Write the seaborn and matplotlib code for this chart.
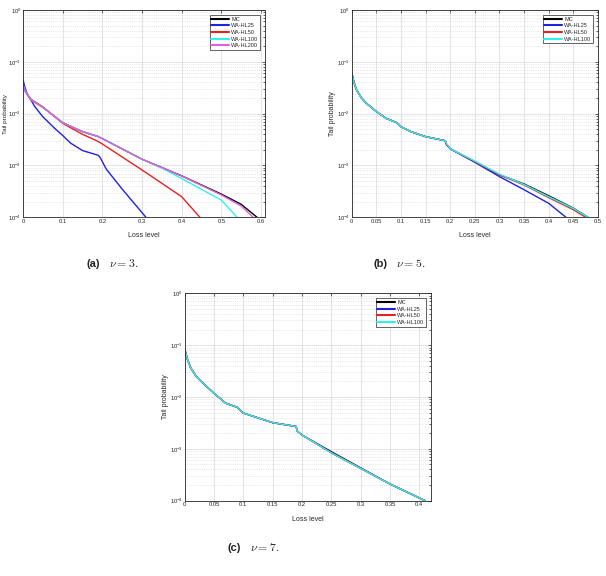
import numpy as np
import pandas as pd
import matplotlib
matplotlib.use("Agg")
import matplotlib.pyplot as plt
import matplotlib.ticker as mticker
import seaborn as sns

sns.set_style("whitegrid")
plt.rcParams['font.family'] = ['Liberation Sans', 'DejaVu Sans']
plt.rcParams['mathtext.fontset'] = 'cm'

# ── Panel (a): nu = 3 ───────────────────────────────────────
a_mc_x = [0, 0.005, 0.01, 0.02, 0.05, 0.1, 0.15, 0.19, 0.2, 0.3, 0.4, 0.5, 0.55, 0.59]
a_mc_y = [0.036, 0.028, 0.024, 0.0184, 0.0133, 0.0067, 0.0045, 0.0036, 0.0033,
          0.00132, 0.00063, 0.00028, 0.000178, 0.0001]
a_hl25_x = [0, 0.005, 0.01, 0.03, 0.05, 0.08, 0.1, 0.12, 0.15, 0.19, 0.195, 0.21, 0.25, 0.31]
a_hl25_y = [0.045, 0.032, 0.0246, 0.0136, 0.0087, 0.0052, 0.0038, 0.0027, 0.00194,
            0.00157, 0.0014, 0.00085, 0.00035, 0.0001]
a_hl50_x = [0, 0.005, 0.01, 0.02, 0.05, 0.1, 0.15, 0.19, 0.2, 0.3, 0.4, 0.446]
a_hl50_y = [0.036, 0.028, 0.024, 0.019, 0.0135, 0.0065, 0.0040, 0.0029, 0.0026,
            0.00082, 0.00025, 0.0001]
a_hl100_x = [0, 0.005, 0.01, 0.02, 0.05, 0.1, 0.15, 0.19, 0.2, 0.3, 0.35, 0.4, 0.5, 0.54]
a_hl100_y = [0.036, 0.028, 0.024, 0.0184, 0.0133, 0.0067, 0.0045, 0.0036, 0.0033,
             0.00132, 0.00089, 0.00056, 0.000215, 0.0001]
a_hl200_x = [0, 0.005, 0.01, 0.02, 0.05, 0.1, 0.15, 0.19, 0.2, 0.3, 0.4, 0.5, 0.55, 0.58]
a_hl200_y = [0.036, 0.028, 0.024, 0.0184, 0.0133, 0.0067, 0.0045, 0.0036, 0.0033,
             0.00132, 0.00063, 0.00027, 0.000165, 0.0001]

# ── Panel (b): nu = 5 ───────────────────────────────────────
b_mc_x = [0, 0.005, 0.01, 0.02, 0.03, 0.05, 0.07, 0.09, 0.095, 0.1, 0.12, 0.15,
          0.19, 0.192, 0.2, 0.25, 0.3, 0.35, 0.4, 0.45, 0.48]
b_mc_y = [0.062, 0.039, 0.0285, 0.020, 0.0158, 0.011, 0.0081, 0.0068, 0.0063,
          0.0056, 0.0045, 0.0036, 0.0030, 0.0026, 0.0021, 0.00118, 0.00066,
          0.00044, 0.00026, 0.00015, 0.0001]
b_hl25_x = [0, 0.005, 0.01, 0.02, 0.03, 0.05, 0.07, 0.09, 0.095, 0.1, 0.12, 0.15,
            0.19, 0.192, 0.2, 0.25, 0.3, 0.35, 0.4, 0.435]
b_hl25_y = [0.062, 0.039, 0.0285, 0.020, 0.0158, 0.011, 0.0081, 0.0068, 0.0063,
            0.0056, 0.0045, 0.0036, 0.0030, 0.0026, 0.0021, 0.00115, 0.00061,
            0.00034, 0.000186, 0.0001]
b_hl50_x = [0, 0.005, 0.01, 0.02, 0.03, 0.05, 0.07, 0.09, 0.095, 0.1, 0.12, 0.15,
            0.19, 0.192, 0.2, 0.25, 0.3, 0.35, 0.4, 0.45, 0.475]
b_hl50_y = [0.062, 0.039, 0.0285, 0.020, 0.0158, 0.011, 0.0081, 0.0068, 0.0063,
            0.0056, 0.0045, 0.0036, 0.0030, 0.0026, 0.0021, 0.00119, 0.00066,
            0.00042, 0.00024, 0.00014, 0.0001]
b_hl100_x = [0, 0.005, 0.01, 0.02, 0.03, 0.05, 0.07, 0.09, 0.095, 0.1, 0.12, 0.15,
             0.19, 0.192, 0.2, 0.25, 0.3, 0.35, 0.4, 0.45, 0.48]
b_hl100_y = [0.062, 0.039, 0.0285, 0.020, 0.0158, 0.011, 0.0081, 0.0068, 0.0063,
             0.0056, 0.0045, 0.0036, 0.0030, 0.0027, 0.0021, 0.00122, 0.00068,
             0.00043, 0.00025, 0.000148, 0.0001]

# ── Panel (c): nu = 7 ───────────────────────────────────────
c_x = [0, 0.005, 0.01, 0.02, 0.03, 0.05, 0.07, 0.09, 0.095, 0.1, 0.15, 0.19,
       0.192, 0.2, 0.25, 0.3, 0.35, 0.41]
c_mc_y = [0.085, 0.052, 0.037, 0.0246, 0.019, 0.0118, 0.0076, 0.0063, 0.0055,
          0.0049, 0.0032, 0.0027, 0.0022, 0.00185, 0.00088, 0.00043, 0.00021, 0.0001]
c_hl25_y = [0.085, 0.052, 0.037, 0.0246, 0.019, 0.0118, 0.0076, 0.0063, 0.0055,
            0.0049, 0.0032, 0.0027, 0.0022, 0.00185, 0.00084, 0.00042, 0.00021, 0.0001]
c_hl50_y = c_hl25_y
c_hl100_y = [0.085, 0.052, 0.037, 0.0246, 0.019, 0.0118, 0.0076, 0.0063, 0.0055,
             0.0049, 0.0032, 0.0027, 0.0022, 0.00185, 0.00084, 0.00042, 0.00021, 0.0001]

colors = {'MC': '#000000', 'WA-HL25': '#2020e0', 'WA-HL50': '#e82020',
          'WA-HL100': '#30f0f0', 'WA-HL200': '#e060e0'}

panels = [
    dict(rect=[23, 10, 265, 217.3], xlim=0.61, xticks=np.arange(0, 0.61, 0.1),
         ylab=-0.061, yfs=4.6,
         data=[('MC', a_mc_x, a_mc_y), ('WA-HL25', a_hl25_x, a_hl25_y),
               ('WA-HL50', a_hl50_x, a_hl50_y), ('WA-HL100', a_hl100_x, a_hl100_y),
               ('WA-HL200', a_hl200_x, a_hl200_y)]),
    dict(rect=[351.7, 10, 598, 217.3], xlim=0.5, xticks=np.arange(0, 0.51, 0.05),
         ylab=-0.062, yfs=5,
         data=[('MC', b_mc_x, b_mc_y), ('WA-HL25', b_hl25_x, b_hl25_y),
               ('WA-HL50', b_hl50_x, b_hl50_y), ('WA-HL100', b_hl100_x, b_hl100_y)]),
    dict(rect=[184.7, 293.3, 431, 500.7], xlim=0.42, xticks=np.arange(0, 0.41, 0.05),
         ylab=-0.062, yfs=5,
         data=[('MC', c_x, c_mc_y), ('WA-HL25', c_x, c_hl25_y),
               ('WA-HL50', c_x, c_hl50_y), ('WA-HL100', c_x, c_hl100_y)]),
]

W, H = 606, 576
fig = plt.figure(figsize=(W / 100, H / 100), dpi=100)

for p in panels:
    x0, y0, x1, y1 = p['rect']
    ax = fig.add_axes([x0 / W, 1 - y1 / H, (x1 - x0) / W, (y1 - y0) / H])
    for name, xs, ys in p['data']:
        df = pd.DataFrame({'x': xs, 'y': ys})
        sns.lineplot(data=df, x='x', y='y', ax=ax, color=colors[name], label=name,
                     linewidth=1.0, sort=False, estimator=None)
    ax.set_yscale('log')
    ax.set_ylim(1e-4, 1)
    ax.set_xlim(0, p['xlim'])
    ax.set_xticks(p['xticks'])
    ax.xaxis.set_major_formatter(mticker.FuncFormatter(lambda v, _: f'{v:g}'))
    ax.yaxis.set_minor_locator(mticker.LogLocator(base=10, subs=np.arange(2, 10)))
    ax.yaxis.set_minor_formatter(mticker.NullFormatter())
    ax.grid(True, which='major', color='#dedede', linewidth=0.6, linestyle='-')
    ax.grid(True, which='minor', axis='y', color='#d4d4d4', linewidth=0.5, linestyle=':')
    ax.tick_params(which='both', direction='in', top=True, right=True,
                   labelsize=4.2, pad=1.2, width=0.5, colors='#262626')
    ax.tick_params(which='major', length=2.5)
    ax.tick_params(which='minor', length=1.3)
    for s in ax.spines.values():
        s.set_color('#262626')
        s.set_linewidth(0.6)
    ax.set_xlabel('Loss level', fontsize=5, color='#262626')
    ax.set_ylabel('Tail probability', fontsize=p['yfs'], color='#262626')
    ax.xaxis.set_label_coords(0.5, -0.072)
    ax.yaxis.set_label_coords(p['ylab'], 0.5)
    leg = ax.legend(loc='upper right', fontsize=4, handlelength=3.2, borderaxespad=0.9,
                    fancybox=False, framealpha=1, edgecolor='#262626',
                    borderpad=0.3, labelspacing=0.3, handletextpad=0.4)
    leg.get_frame().set_linewidth(0.5)
    for line in leg.get_lines():
        line.set_linewidth(1.5)

# ── Captions ────────────────────────────────────────────────
captions = [('(a)', r'$\nu = 3.$', 100, 109, 264),
            ('(b)', r'$\nu = 5.$', 387, 396, 264),
            ('(c)', r'$\nu = 7.$', 241, 250, 548)]
for tag, eq, xr, xl, yc in captions:
    fig.text(xr / W, 1 - yc / H, tag, ha='right', va='center', fontsize=8,
             fontweight='bold', color='#222222')
    fig.text(xl / W, 1 - yc / H, eq, ha='left', va='center', fontsize=8.5,
             color='#222222')

plt.savefig('out.png', dpi=100)
